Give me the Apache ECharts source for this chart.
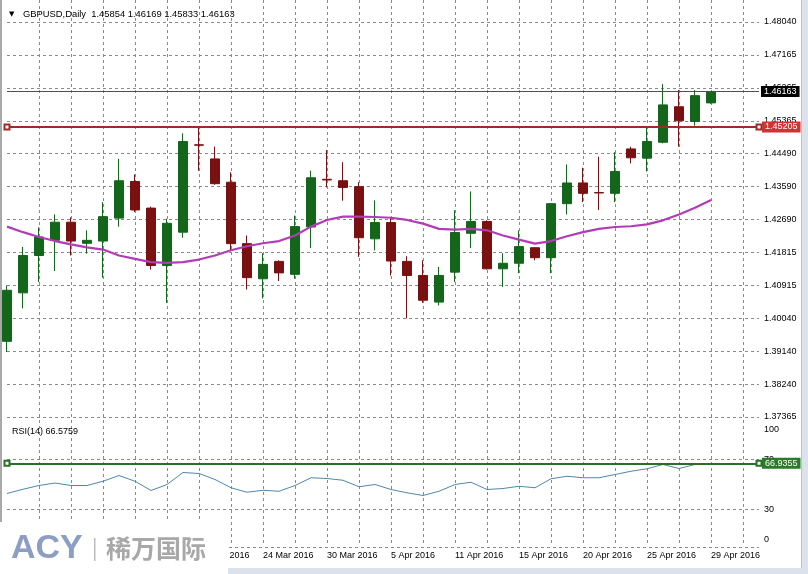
<!DOCTYPE html>
<html>
<head>
<meta charset="utf-8">
<script src="https://cdn.jsdelivr.net/npm/echarts@6/dist/echarts.min.js"></script>
<style>
  html, body { margin: 0; padding: 0; background: #ffffff; }
  #chart { width: 808px; height: 574px; }
</style>
</head>
<body>
<div id="chart"></div>
<script>
// ---- data ----
const symbolName = 'GBPUSD';
const periodName = 'Daily';
const dates = ['2 Mar 2016','3 Mar 2016','4 Mar 2016','7 Mar 2016','8 Mar 2016','9 Mar 2016','10 Mar 2016','11 Mar 2016',
  '14 Mar 2016','15 Mar 2016','16 Mar 2016','17 Mar 2016','18 Mar 2016','21 Mar 2016','22 Mar 2016','23 Mar 2016',
  '24 Mar 2016','25 Mar 2016','28 Mar 2016','29 Mar 2016','30 Mar 2016','31 Mar 2016','1 Apr 2016','4 Apr 2016',
  '5 Apr 2016','6 Apr 2016','7 Apr 2016','8 Apr 2016','11 Apr 2016','12 Apr 2016','13 Apr 2016','14 Apr 2016',
  '15 Apr 2016','17 Apr 2016','18 Apr 2016','19 Apr 2016','20 Apr 2016','21 Apr 2016','22 Apr 2016','24 Apr 2016',
  '25 Apr 2016','26 Apr 2016','27 Apr 2016','28 Apr 2016','29 Apr 2016'];
const emptySlots = ['', '', ''];
const opens  = [1.3941,1.4072,1.4173,1.4214,1.4263,1.4206,1.4212,1.4274,1.4373,1.4301,1.4146,1.4236,1.4472,1.4434,1.4371,1.4205,
  1.4110,1.4157,1.4122,1.4250,1.4379,1.4375,1.4359,1.4218,1.4262,1.4157,1.4119,1.4047,1.4128,1.4233,1.4265,1.4137,
  1.4152,1.4194,1.4167,1.4313,1.4369,1.4343,1.4341,1.4461,1.4436,1.4479,1.4575,1.4535,1.45854];
const closes = [1.4079,1.4173,1.4223,1.4263,1.4212,1.4214,1.4278,1.4375,1.4296,1.4146,1.4260,1.4481,1.4471,1.4367,1.4205,1.4113,
  1.4149,1.4126,1.4251,1.4383,1.4377,1.4357,1.4221,1.4262,1.4158,1.4119,1.4052,1.4119,1.4235,1.4265,1.4137,1.4152,
  1.4197,1.4167,1.4313,1.4369,1.4341,1.4342,1.4400,1.4437,1.4481,1.4580,1.4537,1.4605,1.46163];
const lows   = [1.3912,1.4030,1.4101,1.4131,1.4173,1.4178,1.4113,1.4251,1.4290,1.4135,1.4045,1.4221,1.4402,1.4364,1.4187,1.4081,
  1.4057,1.4104,1.4110,1.4193,1.4357,1.4321,1.4169,1.4187,1.4119,1.4003,1.4045,1.4038,1.4101,1.4193,1.4135,1.4088,
  1.4125,1.4160,1.4125,1.4284,1.4317,1.4296,1.4317,1.4422,1.4400,1.4476,1.4467,1.4524,1.45833];
const highs  = [1.4092,1.4196,1.4249,1.4284,1.4276,1.4241,1.4317,1.4434,1.4392,1.4305,1.4272,1.4503,1.4518,1.4467,1.4398,1.4227,
  1.4179,1.4160,1.4281,1.4402,1.4458,1.4425,1.4371,1.4322,1.4277,1.4171,1.4160,1.4142,1.4295,1.4346,1.4268,1.4179,
  1.4241,1.4195,1.4314,1.4419,1.4410,1.4440,1.4452,1.4467,1.4519,1.4636,1.4620,1.4620,1.46169];
const maValues = [1.4251,1.4236,1.4223,1.4212,1.4203,1.4195,1.4189,1.4173,1.4164,1.4155,1.4153,1.4155,1.4162,1.4173,1.4187,1.4198,
  1.4206,1.4212,1.4227,1.4251,1.4269,1.4278,1.4278,1.4277,1.4275,1.4269,1.4259,1.4245,1.4243,1.4245,1.4241,1.4227,
  1.4216,1.4205,1.4212,1.4225,1.4236,1.4245,1.4250,1.4252,1.4257,1.4268,1.4284,1.4302,1.4323];
const rsiValues = [42.8,46.2,49.2,51.2,49.2,49.2,52.6,57.2,52.6,45.2,50.0,59.6,58.8,54.0,47.4,43.8,
  45.4,44.6,49.2,55.4,54.8,53.4,48.2,50.0,46.0,43.4,41.2,44.6,50.0,51.8,46.0,46.8,
  48.6,47.4,54.6,56.6,55.4,55.4,58.0,60.6,62.6,66.0,62.8,66.0,66.5759];
const priceTicks = ['1.37365','1.38240','1.39140','1.40040','1.40915','1.41815','1.42690','1.43590','1.44490','1.45365','1.46265','1.47165','1.48040'];
const rsiTickLabels = [0, 30, 70, 100];
const rsiLevels = [0, 30, 70];
const rsiPeriod = 14;
const resistanceLevel = 1.45205;
const rsiMarker = 66.9355;

// ---- build ----
const cats = dates.concat(emptySlots);
const candles = opens.map((o, i) => [o, closes[i], lows[i], highs[i]]);
const last = candles.length - 1;
const f5 = v => Number(v).toFixed(5);
const headerText = symbolName + ',' + periodName + '  ' + f5(opens[last]) + ' ' + f5(highs[last]) + ' ' + f5(lows[last]) + ' ' + f5(closes[last]);
const rsiText = 'RSI(' + rsiPeriod + ') ' + rsiValues[last].toFixed(4);

const FONT = "'Liberation Sans', Arial, sans-serif";
const GREEN = '#13661a';
const RED = '#7a1010';
const gridL = 7, gridR = 49;
const dash = { type: [3, 3], color: '#8a8a8a', width: 1 };
const boxLabel = (bg, digits, dist) => ({ show: true, position: 'end', distance: dist,
  formatter: p => Number(p.value).toFixed(digits),
  backgroundColor: bg, color: '#fff', padding: [1, 3, 1, 3], fontSize: 9, fontFamily: FONT });

const chart = echarts.init(document.getElementById('chart'), null, { renderer: 'canvas' });
const option = {
  backgroundColor: '#ffffff',
  animation: false,
  grid: [
    { left: gridL, right: gridR, top: 22, height: 395 },
    { left: gridL, right: gridR, top: 422, height: 125 },
    { left: gridL, right: gridR, top: 0, height: 546 }
  ],
  xAxis: [
    { type: 'category', gridIndex: 0, data: cats, boundaryGap: false, show: false },
    { type: 'category', gridIndex: 1, data: cats, boundaryGap: false, show: false },
    { type: 'category', gridIndex: 2, data: cats, boundaryGap: false,
      axisLine: { show: false }, axisTick: { show: false },
      axisLabel: { interval: (i, v) => i % 4 === 0 && v !== '', align: 'left', margin: 5,
        color: '#000', fontSize: 9, fontFamily: FONT },
      splitLine: { show: true, interval: (i) => i % 2 === 0 && i > 0, lineStyle: dash } }
  ],
  yAxis: [
    { type: 'value', gridIndex: 0, min: 1.37365, max: 1.48040, show: false },
    { type: 'value', gridIndex: 0, position: 'right', min: 0, max: priceTicks.length - 1, interval: 1,
      axisLine: { show: false }, axisTick: { show: false },
      axisLabel: { formatter: v => priceTicks[v] || '', color: '#000', fontSize: 9, fontFamily: FONT, margin: 5 },
      splitLine: { show: true, lineStyle: dash } },
    { type: 'value', gridIndex: 1, position: 'right', min: 0, max: 100, interval: 10,
      axisLine: { show: false }, axisTick: { show: false }, splitLine: { show: false },
      axisLabel: { color: '#000', fontSize: 9, fontFamily: FONT, margin: 5,
        formatter: v => rsiTickLabels.indexOf(v) < 0 ? '' : (v === 100 ? '{top|100}' : v === 0 ? '{bot|0}' : String(v)),
        rich: { top: { padding: [16, 0, 0, 0], fontSize: 9, fontFamily: FONT, color: '#000' },
                bot: { padding: [0, 0, 14, 0], fontSize: 9, fontFamily: FONT, color: '#000' } } } },
    { type: 'value', gridIndex: 2, min: 0, max: 1, show: false }
  ],
  series: [
    { type: 'candlestick', xAxisIndex: 0, yAxisIndex: 0, data: candles, barWidth: 10,
      itemStyle: { color: GREEN, color0: RED, borderColor: GREEN, borderColor0: RED, borderWidth: 1 },
      markLine: { silent: true, animation: false, precision: 5, symbol: ['emptyRect', 'emptyRect'], symbolSize: 5,
        lineStyle: { color: '#a02a2a', width: 2, type: 'solid' },
        label: boxLabel('#cf3434', 5, 3),
        data: [ { yAxis: resistanceLevel } ] } },
    { type: 'line', xAxisIndex: 0, yAxisIndex: 0, data: maValues, showSymbol: false, smooth: false,
      lineStyle: { color: '#b23cb6', width: 2.2 }, silent: true, z: 3,
      markLine: { silent: true, animation: false, precision: 5, symbol: ['none', 'none'],
        lineStyle: { color: '#505050', width: 1, type: 'solid' },
        label: boxLabel('#000', 5, 2),
        data: [ { yAxis: closes[last] } ] } },
    { type: 'line', xAxisIndex: 1, yAxisIndex: 2, data: rsiValues, showSymbol: false,
      lineStyle: { color: '#4f88aa', width: 1 }, silent: true,
      markLine: { silent: true, animation: false, precision: 4, symbol: ['none', 'none'],
        lineStyle: dash, label: { show: false },
        data: rsiLevels.map(v => ({ yAxis: v })) } },
    { type: 'line', xAxisIndex: 1, yAxisIndex: 2, data: [], showSymbol: false, silent: true, z: 4,
      markLine: { silent: true, animation: false, precision: 4, symbol: ['emptyRect', 'emptyRect'], symbolSize: 5,
        lineStyle: { color: '#2a6e2a', width: 2, type: 'solid' },
        label: boxLabel('#2b7a2b', 4, 3),
        data: [ { yAxis: rsiMarker } ] } }
  ],
  graphic: [
    { type: 'rect', shape: { x: 0, y: 0, width: 2, height: 522 }, style: { fill: '#a9a9a9' }, z: 50, silent: true },
    { type: 'rect', shape: { x: 802, y: 0, width: 6, height: 574 }, style: { fill: '#dbe2ec' }, z: 50, silent: true },
    { type: 'rect', shape: { x: 801, y: 0, width: 1, height: 568 }, style: { fill: '#b9c2cf' }, z: 50, silent: true },
    { type: 'rect', shape: { x: 228, y: 568, width: 580, height: 6 }, style: { fill: '#dbe2ec' }, z: 50, silent: true },
    { type: 'text', left: 9, top: 11, style: { text: '▼', fontSize: 7, fill: '#000', fontFamily: 'DejaVu Sans' }, z: 50 },
    { type: 'text', left: 23, top: 10, style: { text: headerText, fontSize: 9.4, fill: '#000', fontFamily: FONT }, z: 50 },
    { type: 'text', left: 12, top: 427, style: { text: rsiText, fontSize: 9, fill: '#000', fontFamily: FONT }, z: 50 },
    { type: 'rect', shape: { x: 0, y: 522, width: 228, height: 52 }, style: { fill: '#ffffff' }, z: 90, silent: true },
    { type: 'text', left: 11, top: 532, style: { text: 'ACY', fontSize: 34, fontWeight: 'bold', fill: '#8c9ec2', fontFamily: FONT }, z: 95 },
    { type: 'rect', shape: { x: 94, y: 538, width: 1.5, height: 23 }, style: { fill: '#bcbcbc' }, z: 95, silent: true },
    { type: 'text', left: 106, top: 536, style: { text: '稀万国际', fontSize: 25, fontWeight: 'bold', fill: '#a8a8a8', fontFamily: "'Noto Sans CJK SC'" }, z: 95 }
  ]
};
chart.setOption(option);
</script>
</body>
</html>
